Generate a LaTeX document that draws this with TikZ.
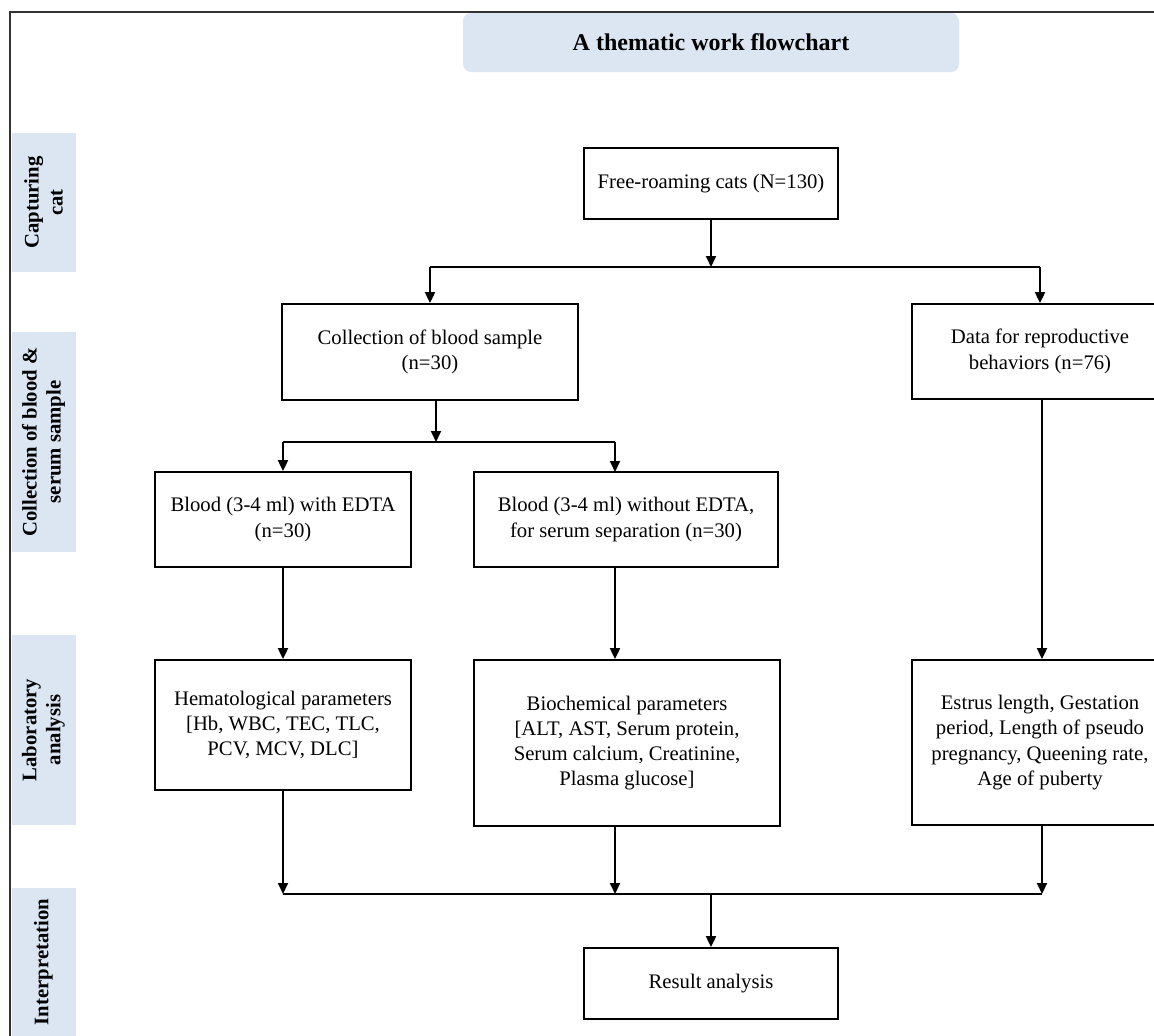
\documentclass[tikz,border=0pt]{standalone}
\usepackage{fontspec}
\setmainfont{Liberation Serif}
\usetikzlibrary{arrows.meta}
\definecolor{lane}{HTML}{DCE6F2}
\tikzset{
  box/.style={draw=black, line width=1.8pt, inner sep=0pt, align=center,
    font=\fontsize{20.7}{25.2}\selectfont},
  lanebar/.style={fill=lane, draw=none, inner sep=0pt},
  lanetext/.style={rotate=90, align=center, inner sep=0pt,
    font=\bfseries\fontsize{20.7}{24}\selectfont},
  conn/.style={line width=1.9pt, draw=black},
  arr/.style={conn, -{Triangle[length=11pt,width=10pt]}},
}
\begin{document}
\begin{tikzpicture}[x=1pt,y=-1pt]
\clip (0,0) rectangle (1154,1036);
\fill[white] (0,0) rectangle (1154,1036);
% outer frame
\draw[line width=1.5pt, color=black!80] (1170,12) -- (10,12) -- (10,1050);
% title
\node[fill=lane, rounded corners=8pt, minimum width=496pt, minimum height=59pt,
  inner sep=0pt, font=\bfseries\fontsize{24}{28}\selectfont] (title) at (711,42.5) {A thematic work flowchart};
% lanes
\node[lanebar, minimum width=64pt, minimum height=139pt] (lane1) at (43.5,202.5) {};
\node[lanetext] (lane1t) at (lane1) {Capturing\\cat};
\node[lanebar, minimum width=64pt, minimum height=220pt] (lane2) at (43.5,442) {};
\node[lanetext] (lane2t) at (lane2) {Collection of blood \&\\serum sample};
\node[lanebar, minimum width=64pt, minimum height=190pt] (lane3) at (43.5,730) {};
\node[lanetext] (lane3t) at (lane3) {Laboratory\\analysis};
\node[lanebar, minimum width=64pt, minimum height=160pt] (lane4) at (43.5,968) {};
\node[lanetext] (lane4t) at (43.5,962) {Interpretation};
% boxes
\node[box, minimum width=254pt, minimum height=71pt] (free) at (711,183.5) {Free-roaming cats (N=130)};
\node[box, minimum width=296pt, minimum height=96pt] (coll) at (430,352) {Collection of blood sample\\(n=30)};
\node[box, minimum width=256pt, minimum height=95pt] (data) at (1040,351.5) {Data for reproductive\\behaviors (n=76)};
\node[box, minimum width=256pt, minimum height=95pt] (bedta) at (283,519.5) {Blood (3-4 ml) with EDTA\\(n=30)};
\node[box, minimum width=304pt, minimum height=95pt] (bwo) at (626,519.5) {Blood (3-4 ml) without EDTA,\\for serum separation (n=30)};
\node[box, minimum width=256pt, minimum height=130pt] (hem) at (283,725) {Hematological parameters\\{}[Hb, WBC, TEC, TLC,\\PCV, MCV, DLC]};
\node[box, minimum width=306pt, minimum height=166pt] (bio) at (627,743) {Biochemical parameters\\{}[ALT, AST, Serum protein,\\Serum calcium, Creatinine,\\Plasma glucose]};
\node[box, minimum width=256pt, minimum height=165pt] (est) at (1040,742.5) {Estrus length, Gestation\\period, Length of pseudo\\pregnancy, Queening rate,\\Age of puberty};
\node[box, minimum width=254pt, minimum height=71pt] (res) at (711,983.5) {Result analysis};
% junction coordinates
\coordinate (j1) at (711,267);
\coordinate (j2) at (436,442);
\coordinate (j3) at (711,894);
\coordinate (bwoin) at (615,472);
\coordinate (bioout) at (615,826);
\coordinate (estout) at (1042,825);
% connectors
\draw[arr] (free.south) -- (j1);
\draw[conn] (j1 -| coll.north) -- (j1 -| data.north);
\draw[arr] (j1 -| coll.north) -- (coll.north);
\draw[arr] (j1 -| data.north) -- (data.north);
\draw[arr] (coll.south -| j2) -- (j2);
\draw[conn] (j2 -| bedta.north) -- (j2 -| bwoin);
\draw[arr] (j2 -| bedta.north) -- (bedta.north);
\draw[arr] (j2 -| bwoin) -- (bwoin);
\draw[arr] (bedta.south) -- (hem.north);
\draw[arr] (bwo.south -| bwoin) -- (bio.north -| bwoin);
\draw[arr] (data.south -| estout) -- (est.north -| estout);
\draw[conn] (j3 -| hem.south) -- (j3 -| estout);
\draw[arr] (hem.south) -- (j3 -| hem.south);
\draw[arr] (bioout) -- (j3 -| bioout);
\draw[arr] (estout) -- (j3 -| estout);
\draw[arr] (j3) -- (res.north);
\end{tikzpicture}
\end{document}
